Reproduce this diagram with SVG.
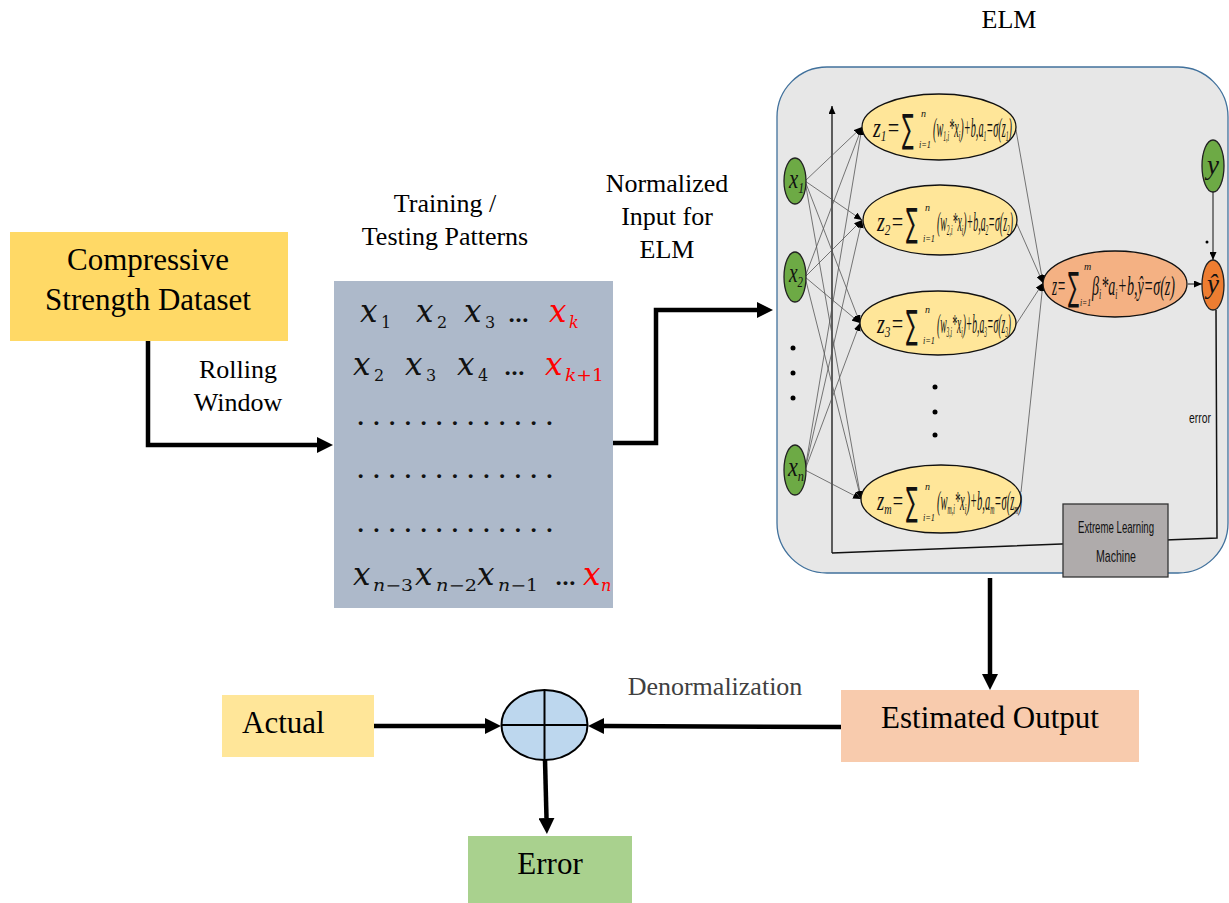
<svg xmlns="http://www.w3.org/2000/svg" width="1229" height="903" viewBox="0 0 1229 903">
<defs>
<style>
.t{font-family:"Liberation Serif","Times New Roman",serif;fill:#000}
.t31{font-size:31px}
.t26{font-size:26px}
.eq{font-family:"Liberation Serif","Times New Roman",serif;font-style:italic;font-size:27px;fill:#111}
.lim{font-family:"Liberation Serif","Times New Roman",serif;font-style:italic;font-size:10px;fill:#111}
.sig{font-family:"DejaVu Sans",sans-serif;font-size:30px;fill:#111}
.sub{font-size:15px}
.mx{font-family:"DejaVu Serif",serif;font-style:italic;font-size:31px;fill:#111}
.ms{font-family:"DejaVu Serif",serif;font-size:16px;fill:#111}
.msi{font-family:"DejaVu Serif",serif;font-style:italic;font-size:16px}
.red{fill:#FF0000}
.dots{font-family:"DejaVu Serif",serif;font-size:21px;font-weight:bold;fill:#111}
.thin{stroke:#555;stroke-width:0.8;fill:none}
.thick{stroke:#000;stroke-width:4.5;fill:none}
.hid{fill:#FFE699;stroke:#111;stroke-width:1.3}
.inp{fill:#6DAA45;stroke:#222;stroke-width:1.3}
.dot{fill:#000}
</style>
<marker id="big" markerUnits="userSpaceOnUse" markerWidth="16" markerHeight="16" refX="0" refY="8" orient="auto"><path d="M0,0 L16,8 L0,16 z" fill="#000"/></marker>
<marker id="sm" markerUnits="userSpaceOnUse" markerWidth="8" markerHeight="7" refX="8" refY="3.5" orient="auto"><path d="M0,0 L8,3.5 L0,7 z" fill="#000"/></marker>
</defs>
<rect x="0" y="0" width="1229" height="903" fill="#fff"/>

<!-- ELM panel background -->
<g id="elm-panel">
<rect x="777" y="67" width="451" height="506" rx="50" ry="50" fill="#E7E7E7" stroke="#41719C" stroke-width="1.3"/>
<text class="t t26" x="1009" y="28" text-anchor="middle">ELM</text>
</g>

<!-- connectors -->
<g id="connectors">
<polyline class="thick" points="148,341 148,445 317,445" marker-end="url(#big)"/>
<polyline class="thick" points="613,443 656,443 656,310 757,310" marker-end="url(#big)"/>
<line class="thick" x1="990" y1="578" x2="990" y2="674" marker-end="url(#big)"/>
<line class="thick" x1="374" y1="726" x2="485" y2="726" marker-end="url(#big)"/>
<line class="thick" x1="841" y1="727" x2="604" y2="726" marker-end="url(#big)"/>
<line class="thick" x1="545" y1="760" x2="546.5" y2="818" marker-end="url(#big)"/>

<!-- ELM internal: axes -->
<line x1="832" y1="553" x2="832" y2="106" stroke="#111" stroke-width="1.3" marker-end="url(#sm)"/>
<polyline points="832,553 1217,538 1216,310" fill="none" stroke="#111" stroke-width="1.5"/>

<!-- input to hidden -->
<g class="thin" marker-end="url(#sm)">
<line x1="805" y1="181" x2="862" y2="127"/>
<line x1="805" y1="181" x2="862" y2="220"/>
<line x1="805" y1="181" x2="860" y2="323"/>
<line x1="805" y1="181" x2="861" y2="499"/>
<line x1="805" y1="277" x2="862" y2="127"/>
<line x1="805" y1="277" x2="862" y2="220"/>
<line x1="805" y1="277" x2="860" y2="323"/>
<line x1="805" y1="277" x2="861" y2="499"/>
<line x1="805" y1="470" x2="862" y2="127"/>
<line x1="805" y1="470" x2="862" y2="220"/>
<line x1="805" y1="470" x2="860" y2="323"/>
<line x1="805" y1="470" x2="861" y2="499"/>
</g>
<!-- hidden to output -->
<g class="thin" marker-end="url(#sm)">
<line x1="1016" y1="130" x2="1043" y2="283"/>
<line x1="1017" y1="224" x2="1043" y2="283"/>
<line x1="1015" y1="326" x2="1043" y2="283"/>
<line x1="1021" y1="492" x2="1043" y2="283"/>
</g>
<line x1="1188" y1="284" x2="1202" y2="284" stroke="#111" stroke-width="1" marker-end="url(#sm)"/>
<line x1="1213" y1="192" x2="1213" y2="260" stroke="#111" stroke-width="1" marker-end="url(#sm)"/>
<circle cx="1207" cy="242" r="1.5" class="dot"/>
</g>

<!-- Dataset -->
<g id="dataset">
<rect x="10" y="232" width="278" height="109" fill="#FFD966"/>
<text class="t t31" x="148" y="270" text-anchor="middle">Compressive</text>
<text class="t t31" x="148" y="310" text-anchor="middle">Strength Dataset</text>
</g>
<g id="label-rolling">
<text class="t t26" x="238" y="378" text-anchor="middle">Rolling</text>
<text class="t t26" x="238" y="411" text-anchor="middle">Window</text>
</g>

<!-- Training patterns -->
<g id="patterns">
<text class="t t26" x="445" y="212" text-anchor="middle">Training /</text>
<text class="t t26" x="445" y="245" text-anchor="middle">Testing Patterns</text>
<rect x="334" y="281" width="279" height="327" fill="#ADB9CA"/>
<text class="mx" x="360" y="322">x</text><text class="ms" x="381" y="328">1</text>
<text class="mx" x="416" y="322">x</text><text class="ms" x="437" y="328">2</text>
<text class="mx" x="464" y="322">x</text><text class="ms" x="485" y="328">3</text>
<text class="dots" x="508" y="322">…</text>
<text class="mx red" x="549" y="322">x</text><text class="msi red" x="569" y="328">k</text>

<text class="mx" x="353" y="375">x</text><text class="ms" x="374" y="381">2</text>
<text class="mx" x="405" y="375">x</text><text class="ms" x="426" y="381">3</text>
<text class="mx" x="457" y="375">x</text><text class="ms" x="478" y="381">4</text>
<text class="dots" x="504" y="375">…</text>
<text class="mx red" x="545" y="375">x</text><text class="ms red" x="565" y="381" textLength="39" lengthAdjust="spacingAndGlyphs"><tspan font-style="italic">k</tspan>+1</text>

<text class="dots" x="357" y="425" textLength="196" lengthAdjust="spacing">.............</text>
<text class="dots" x="357" y="478" textLength="196" lengthAdjust="spacing">.............</text>
<text class="dots" x="357" y="532" textLength="196" lengthAdjust="spacing">.............</text>

<text class="mx" x="353" y="585">x</text><text class="ms" x="373" y="591" textLength="40" lengthAdjust="spacingAndGlyphs"><tspan font-style="italic">n</tspan>−3</text>
<text class="mx" x="415" y="585">x</text><text class="ms" x="436" y="591" textLength="41" lengthAdjust="spacingAndGlyphs"><tspan font-style="italic">n</tspan>−2</text>
<text class="mx" x="477" y="585">x</text><text class="ms" x="498" y="591" textLength="40" lengthAdjust="spacingAndGlyphs"><tspan font-style="italic">n</tspan>−1</text>
<text class="dots" x="555" y="585">…</text>
<text class="mx red" x="583" y="585">x</text><text class="msi red" x="601" y="591">n</text>
</g>

<g id="label-normalized">
<text class="t t26" x="667" y="192" text-anchor="middle">Normalized</text>
<text class="t t26" x="667" y="225" text-anchor="middle">Input for</text>
<text class="t t26" x="667" y="258" text-anchor="middle">ELM</text>
</g>

<!-- input nodes -->
<g id="x1">
<ellipse class="inp" cx="795" cy="181" rx="11" ry="23"/>
<text class="eq" x="789" y="188" font-size="24" textLength="15" lengthAdjust="spacingAndGlyphs">x<tspan class="sub" dy="5">1</tspan></text>
</g>
<g id="x2">
<ellipse class="inp" cx="795" cy="277" rx="11" ry="25"/>
<text class="eq" x="789" y="282" font-size="20" textLength="14" lengthAdjust="spacingAndGlyphs">x<tspan class="sub" dy="5">2</tspan></text>
</g>
<g id="input-dots">
<circle class="dot" cx="793" cy="348" r="2.5"/>
<circle class="dot" cx="793" cy="373" r="2.5"/>
<circle class="dot" cx="793" cy="398" r="2.5"/>
</g>
<g id="xn">
<ellipse class="inp" cx="795" cy="470" rx="11" ry="25"/>
<text class="eq" x="788" y="476" font-size="24" textLength="16" lengthAdjust="spacingAndGlyphs">x<tspan class="sub" dy="5">n</tspan></text>
</g>

<!-- hidden nodes -->
<g id="z1">
<ellipse class="hid" cx="939" cy="127" rx="77" ry="33"/>
<text class="eq" x="873" y="137" textLength="27" lengthAdjust="spacingAndGlyphs">z<tspan class="sub" dy="4">1</tspan><tspan dy="-4">=</tspan></text>
<text class="sig" transform="translate(902,142) scale(0.58,1.3)">∑</text>
<text class="lim" x="921" y="117">n</text>
<text class="lim" x="919" y="148" textLength="12" lengthAdjust="spacingAndGlyphs">i=1</text>
<text class="eq" x="933" y="137" textLength="79" lengthAdjust="spacingAndGlyphs">(w<tspan class="sub" dy="4">1,i</tspan><tspan dy="-4">*x</tspan><tspan class="sub" dy="4">i</tspan><tspan dy="-4">)+b,a</tspan><tspan class="sub" dy="4">1</tspan><tspan dy="-4">=σ(z</tspan><tspan class="sub" dy="4">1</tspan><tspan dy="-4">)</tspan></text>
</g>
<g id="z2">
<ellipse class="hid" cx="940" cy="220" rx="77" ry="35"/>
<text class="eq" x="877" y="231" textLength="27" lengthAdjust="spacingAndGlyphs">z<tspan class="sub" dy="4">2</tspan><tspan dy="-4">=</tspan></text>
<text class="sig" transform="translate(906,236) scale(0.58,1.3)">∑</text>
<text class="lim" x="925" y="211">n</text>
<text class="lim" x="923" y="242" textLength="12" lengthAdjust="spacingAndGlyphs">i=1</text>
<text class="eq" x="937" y="231" textLength="76" lengthAdjust="spacingAndGlyphs">(w<tspan class="sub" dy="4">2,i</tspan><tspan dy="-4">*x</tspan><tspan class="sub" dy="4">i</tspan><tspan dy="-4">)+b,a</tspan><tspan class="sub" dy="4">2</tspan><tspan dy="-4">=σ(z</tspan><tspan class="sub" dy="4">2</tspan><tspan dy="-4">)</tspan></text>
</g>
<g id="z3">
<ellipse class="hid" cx="938" cy="323" rx="78" ry="32"/>
<text class="eq" x="877" y="333" textLength="27" lengthAdjust="spacingAndGlyphs">z<tspan class="sub" dy="4">3</tspan><tspan dy="-4">=</tspan></text>
<text class="sig" transform="translate(906,338) scale(0.58,1.3)">∑</text>
<text class="lim" x="925" y="313">n</text>
<text class="lim" x="923" y="344" textLength="12" lengthAdjust="spacingAndGlyphs">i=1</text>
<text class="eq" x="937" y="333" textLength="74" lengthAdjust="spacingAndGlyphs">(w<tspan class="sub" dy="4">3,i</tspan><tspan dy="-4">*x</tspan><tspan class="sub" dy="4">i</tspan><tspan dy="-4">)+b,a</tspan><tspan class="sub" dy="4">3</tspan><tspan dy="-4">=σ(z</tspan><tspan class="sub" dy="4">3</tspan><tspan dy="-4">)</tspan></text>
</g>
<g id="hidden-dots">
<circle class="dot" cx="935" cy="387" r="2.5"/>
<circle class="dot" cx="935" cy="412" r="2.5"/>
<circle class="dot" cx="935" cy="435" r="2.5"/>
</g>
<g id="zm">
<ellipse class="hid" cx="941" cy="499" rx="80" ry="34"/>
<text class="eq" x="877" y="510" textLength="27" lengthAdjust="spacingAndGlyphs">z<tspan class="sub" dy="4">m</tspan><tspan dy="-4">=</tspan></text>
<text class="sig" transform="translate(906,515) scale(0.58,1.3)">∑</text>
<text class="lim" x="925" y="490">n</text>
<text class="lim" x="923" y="521" textLength="12" lengthAdjust="spacingAndGlyphs">i=1</text>
<text class="eq" x="937" y="510" textLength="85" lengthAdjust="spacingAndGlyphs">(w<tspan class="sub" dy="4">m,i</tspan><tspan dy="-4">*x</tspan><tspan class="sub" dy="4">i</tspan><tspan dy="-4">)+b,a</tspan><tspan class="sub" dy="4">m</tspan><tspan dy="-4">=σ(z</tspan><tspan class="sub" dy="4">m</tspan><tspan dy="-4">)</tspan></text>
</g>

<!-- output node -->
<g id="output-sum">
<ellipse cx="1115" cy="284" rx="72" ry="33" fill="#F4B183" stroke="#111" stroke-width="1.3"/>
<text class="eq" x="1052" y="295" textLength="14" lengthAdjust="spacingAndGlyphs">z=</text>
<text class="sig" transform="translate(1068,300) scale(0.55,1.3)">∑</text>
<text class="lim" x="1084" y="270">m</text>
<text class="lim" x="1080" y="306" textLength="11" lengthAdjust="spacingAndGlyphs">i=1</text>
<text class="eq" x="1092" y="295" textLength="83" lengthAdjust="spacingAndGlyphs">β<tspan class="sub" dy="4">i</tspan><tspan dy="-4">*a</tspan><tspan class="sub" dy="4">i</tspan><tspan dy="-4">+b,ŷ=σ(z)</tspan></text>
</g>
<g id="y">
<ellipse class="inp" cx="1213" cy="166" rx="11" ry="26"/>
<text class="eq" x="1213" y="174" text-anchor="middle" font-size="26">y</text>
</g>
<g id="yhat">
<ellipse cx="1213" cy="285" rx="11" ry="25" fill="#ED7D31" stroke="#222" stroke-width="1.3"/>
<text class="eq" x="1213" y="293" text-anchor="middle" font-size="26">ŷ</text>
</g>
<text x="1211" y="423" text-anchor="end" font-family="Liberation Sans, Arial, sans-serif" font-size="15" textLength="22" lengthAdjust="spacingAndGlyphs" fill="#111">error</text>

<g id="elm-box">
<rect x="1063" y="504" width="105" height="73" fill="#AFABAB" stroke="#333" stroke-width="1.3"/>
<text x="1116" y="533" text-anchor="middle" font-family="Liberation Sans, Arial, sans-serif" font-size="17" textLength="76" lengthAdjust="spacingAndGlyphs" fill="#111">Extreme Learning</text>
<text x="1116" y="562" text-anchor="middle" font-family="Liberation Sans, Arial, sans-serif" font-size="17" textLength="40" lengthAdjust="spacingAndGlyphs" fill="#111">Machine</text>
</g>

<!-- bottom -->
<g id="estimated">
<rect x="841" y="690" width="298" height="72" fill="#F8CBAD"/>
<text class="t t31" x="990" y="728" text-anchor="middle">Estimated Output</text>
</g>
<text class="t t26" x="715" y="695" text-anchor="middle" style="fill:#404040">Denormalization</text>
<g id="actual">
<rect x="222" y="695" width="152" height="62" fill="#FFE699"/>
<text class="t t31" x="242" y="733">Actual</text>
</g>
<g id="junction">
<ellipse cx="544.5" cy="725" rx="43" ry="35" fill="#BDD7EE" stroke="#000" stroke-width="2"/>
<line x1="544.5" y1="690" x2="544.5" y2="760" stroke="#000" stroke-width="2"/>
<line x1="501.5" y1="725" x2="587.5" y2="725" stroke="#000" stroke-width="2"/>
</g>
<g id="error">
<rect x="468" y="836" width="164" height="67" fill="#A9D18E"/>
<text class="t t31" x="550" y="874" text-anchor="middle">Error</text>
</g>
</svg>
